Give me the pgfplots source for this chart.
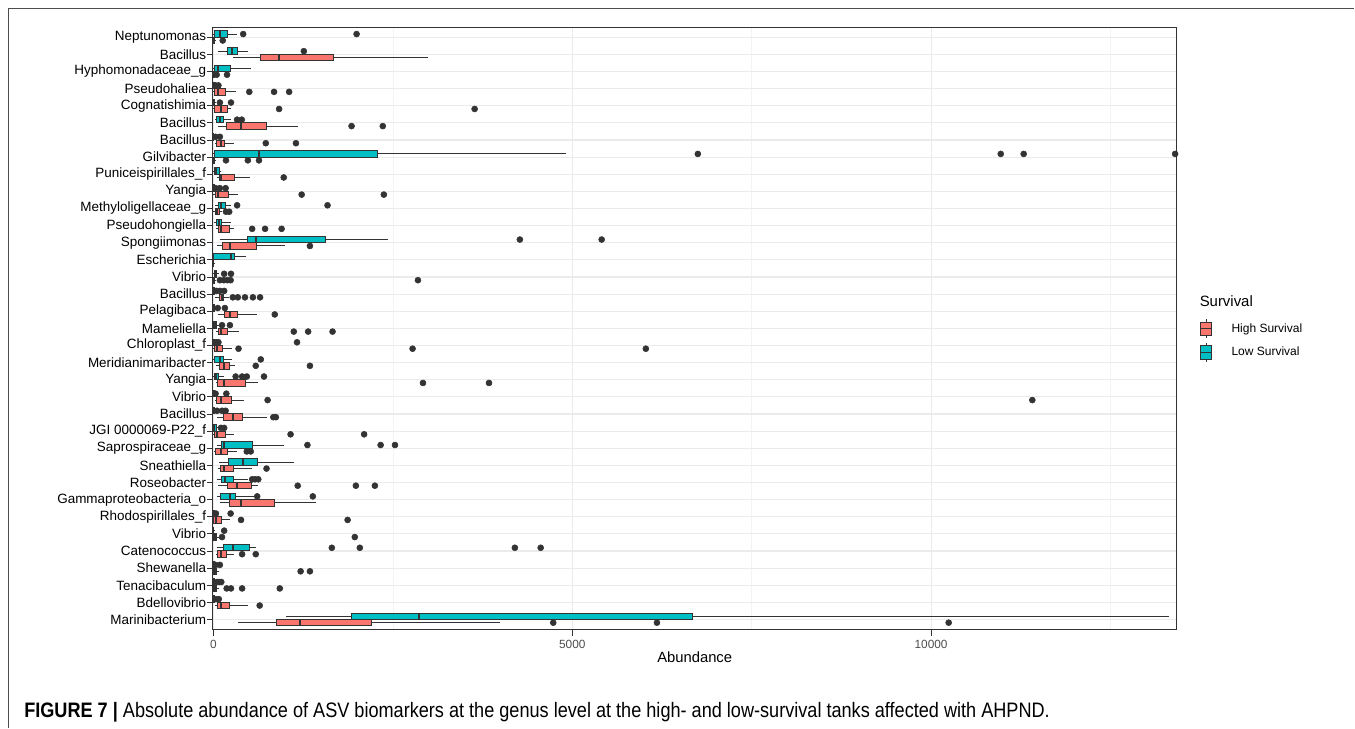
\documentclass[border=0pt]{standalone}
\usepackage{pgfplots}
\pgfplotsset{compat=1.18}
\usepackage{pgfplotstable}
\usepgfplotslibrary{statistics}
\usepackage{graphicx}
\usepackage{fontspec}
\setmainfont{Liberation Sans}

\definecolor{hi}{HTML}{F8766D}
\definecolor{lo}{HTML}{00BFC4}
\definecolor{g20}{HTML}{333333}
\definecolor{g30}{HTML}{4D4D4D}
\definecolor{g92}{HTML}{EBEBEB}

% box statistics, one row per genus, top to bottom
\pgfplotstableread{
lw lq med uq uw
0 20 90 190 330
65 190 260 330 480
0 20 65 245 520
0 0 5 10 15
0 0 5 15 30
20 50 90 135 240
0 0 0 5 10
0 20 635 2290 4910
0 20 40 80 110
0 0 5 10 20
20 65 110 175 250
10 45 80 115 240
90 470 590 1565 2430
0 5 240 300 460
0 15 30 50 80
0 0 5 10 20
0 0 5 15 30
0 5 20 50 90
0 0 5 10 20
0 20 90 145 260
0 20 40 75 150
0 0 5 10 20
0 0 10 20 40
0 5 15 40 70
45 115 145 550 985
75 205 410 610 1125
45 115 165 275 480
45 105 230 310 560
0 0 5 15 25
0 0 0 5 10
45 135 270 500 590
0 0 5 10 20
0 0 5 15 30
0 0 5 10 20
1010 1930 2860 6680 13310
}\lowstats

\pgfplotstableread{
lw lq med uq uw
0 0 5 15 30
270 650 915 1670 2990
0 0 5 10 20
0 20 65 175 310
0 20 100 200 245
65 185 380 740 1175
20 50 105 160 280
0 0 5 15 30
50 80 110 300 510
0 35 70 210 340
0 35 50 90 120
30 75 110 225 290
50 120 230 600 995
0 0 0 2 5
0 0 5 10 30
20 90 120 145 220
60 160 235 330 610
30 75 110 200 360
0 20 50 130 260
30 90 150 230 295
30 60 145 450 620
20 45 110 255 425
45 135 270 410 740
0 20 50 170 280
10 35 110 200 330
60 105 150 275 535
65 200 325 535 620
90 220 380 855 1430
0 5 30 115 230
0 5 20 50 80
30 60 105 185 280
0 5 20 50 80
0 0 20 40 80
20 60 105 230 480
340 885 1210 2205 3990
}\highstats

% outliers: value, genus row
\pgfplotstableread{
v c
415 0
1995 0
1260 1
30 3
70 3
90 4
245 4
330 5
395 5
30 6
90 6
6750 7
10970 7
11290 7
13400 7
30 9
90 9
170 9
330 10
1590 10
4270 12
5410 12
150 14
245 14
40 15
90 15
150 15
60 16
160 16
120 17
230 17
40 18
70 18
1165 18
660 19
310 20
400 20
465 20
705 20
30 21
180 21
50 22
120 22
170 22
105 23
150 23
1310 24
2330 24
2530 24
540 26
580 26
625 26
610 27
1385 27
35 28
240 28
150 29
1650 30
2040 30
4200 30
4560 30
30 31
90 31
50 32
80 32
110 32
35 33
75 33
}\lowout

\pgfplotstableread{
v c
130 0
45 2
190 2
500 3
845 3
1055 3
915 4
3640 4
1925 5
2360 5
730 6
1150 6
175 7
480 7
635 7
980 8
1230 9
2375 9
175 10
220 10
540 11
720 11
950 11
1345 12
90 14
145 14
195 14
240 14
2850 14
270 15
340 15
440 15
550 15
650 15
855 16
1120 17
1320 17
1660 17
350 18
2775 18
6025 18
590 19
1345 19
2920 20
3840 20
755 21
11410 21
835 22
870 22
1075 23
2100 23
465 24
520 24
740 25
1175 26
1985 26
2250 26
385 28
1870 28
120 29
1970 29
400 30
590 30
1215 31
1345 31
185 32
245 32
400 32
925 32
645 33
4735 34
6180 34
10245 34
}\highout

% draws one box of table #1 row #2 at position #3 with fill #4
\newcommand{\onebox}[4]{%
  \pgfplotstablegetelem{#2}{lw}\of#1\edef\vlw{\pgfplotsretval}%
  \pgfplotstablegetelem{#2}{lq}\of#1\edef\vlq{\pgfplotsretval}%
  \pgfplotstablegetelem{#2}{med}\of#1\edef\vmed{\pgfplotsretval}%
  \pgfplotstablegetelem{#2}{uq}\of#1\edef\vuq{\pgfplotsretval}%
  \pgfplotstablegetelem{#2}{uw}\of#1\edef\vuw{\pgfplotsretval}%
  \edef\cmd{\noexpand\addplot[forget plot, draw=g20, fill=#4,
    line width=0.75pt, boxplot prepared={draw position=#3,
      lower whisker=\vlw, lower quartile=\vlq, median=\vmed,
      upper quartile=\vuq, upper whisker=\vuw}] coordinates {};}%
  \cmd}

\begin{document}
\begin{tikzpicture}
\begin{scope}[x=0.75pt,y=-0.75pt]
\useasboundingbox (0,0) rectangle (1355,728);
\end{scope}
\begin{axis}[
    at={(159.75pt,-472.5pt)}, anchor=south west,
    scale only axis, width=723pt, height=452.25pt,
    xmin=-7, xmax=13419,
    ymin=-0.6, ymax=34.6, y dir=reverse,
    xtick={0,5000,10000},
    minor xtick={2500,7500,12500},
    ytick={0,...,34},
    yticklabels={Neptunomonas, Bacillus, Hyphomonadaceae\_g, Pseudohaliea,
      Cognatishimia, Bacillus, Bacillus, Gilvibacter, Puniceispirillales\_f,
      Yangia, Methyloligellaceae\_g, Pseudohongiella, Spongiimonas,
      Escherichia, Vibrio, Bacillus, Pelagibaca, Mameliella, Chloroplast\_f,
      Meridianimaribacter, Yangia, Vibrio, Bacillus, JGI 0000069-P22\_f,
      Saprospiraceae\_g, Sneathiella, Roseobacter, Gammaproteobacteria\_o,
      Rhodospirillales\_f, Vibrio, Catenococcus, Shewanella, Tenacibaculum,
      Bdellovibrio, Marinibacterium},
    xtick pos=bottom, ytick pos=left,
    tick align=outside, major tick length=4.5pt, minor tick length=0pt,
    tick style={g20, line width=0.7pt},
    xmajorgrids, xminorgrids, ymajorgrids,
    major grid style={g92, line width=0.8pt},
    minor grid style={g92!60!white, line width=0.45pt},
    axis line style={g20, line width=0.7pt},
    scaled x ticks=false,
    /pgf/number format/1000 sep={},
    /pgf/number format/assume math mode=true,
    xticklabel style={font=\fontsize{8.9}{10}\selectfont, text=g30},
    yticklabel style={font=\fontsize{10.1}{12}\selectfont, text=black,
      xshift=3pt},
    xlabel={Abundance},
    xlabel style={font=\fontsize{11.1}{13}\selectfont, yshift=4.5pt},
    boxplot/draw direction=x,
    boxplot/box extend=0.375,
    boxplot/whisker extend=0,
    boxplot/every median/.style={line width=1.5pt},
    legend style={at={(1.0245,0.516)}, anchor=north west, draw=none,
      fill=none, inner sep=0pt, row sep=3pt,
      font=\fontsize{9}{10.8}\selectfont, nodes={inner sep=1.5pt}},
    legend cell align=left,
]
\pgfplotsinvokeforeach{0,...,34}{
  \onebox{\lowstats}{#1}{#1-0.1875}{lo}
  \onebox{\highstats}{#1}{#1+0.1875}{hi}
}
\addplot[forget plot, only marks, mark=*, mark size=2.25pt, g20]
  table[x=v, y expr=\thisrow{c}-0.1875] {\lowout};
\addplot[forget plot, only marks, mark=*, mark size=2.25pt, g20]
  table[x=v, y expr=\thisrow{c}+0.1875] {\highout};

\addlegendimage{legend image code/.code={
  \draw[g20, line width=0.75pt, fill=hi] (0pt,-5pt) rectangle (7.7pt,5pt);
  \draw[g20, line width=0.75pt] (0pt,0pt) -- (7.7pt,0pt);
  \draw[g20, line width=0.75pt] (3.85pt,5pt) -- (3.85pt,7pt)
    (3.85pt,-5pt) -- (3.85pt,-7pt);
  \path[draw=none, fill=none] (0pt,0pt) -- (21.5pt,0pt);}}
\addlegendentry{High Survival}
\addlegendimage{legend image code/.code={
  \draw[g20, line width=0.75pt, fill=lo] (0pt,-5pt) rectangle (7.7pt,5pt);
  \draw[g20, line width=0.75pt] (0pt,0pt) -- (7.7pt,0pt);
  \draw[g20, line width=0.75pt] (3.85pt,5pt) -- (3.85pt,7pt)
    (3.85pt,-5pt) -- (3.85pt,-7pt);
  \path[draw=none, fill=none] (0pt,0pt) -- (21.5pt,0pt);}}
\addlegendentry{Low Survival}
\end{axis}
\begin{scope}[x=0.75pt,y=-0.75pt]
\draw[g30, line width=0.9pt] (8.5,728) -- (8.5,8.5) -- (1355,8.5);
\node[anchor=west, inner sep=0pt] at (1200,301)
  {\fontsize{11.2}{13}\selectfont Survival};
\node[anchor=base west, inner sep=0pt] at (24,718)
  {\resizebox{769.5pt}{\height}{\fontsize{15.7}{18}\selectfont
  \textbf{FIGURE 7 |} Absolute abundance of ASV biomarkers at the genus level
  at the high- and low-survival tanks affected with AHPND.}};
\end{scope}
\end{tikzpicture}
\end{document}
